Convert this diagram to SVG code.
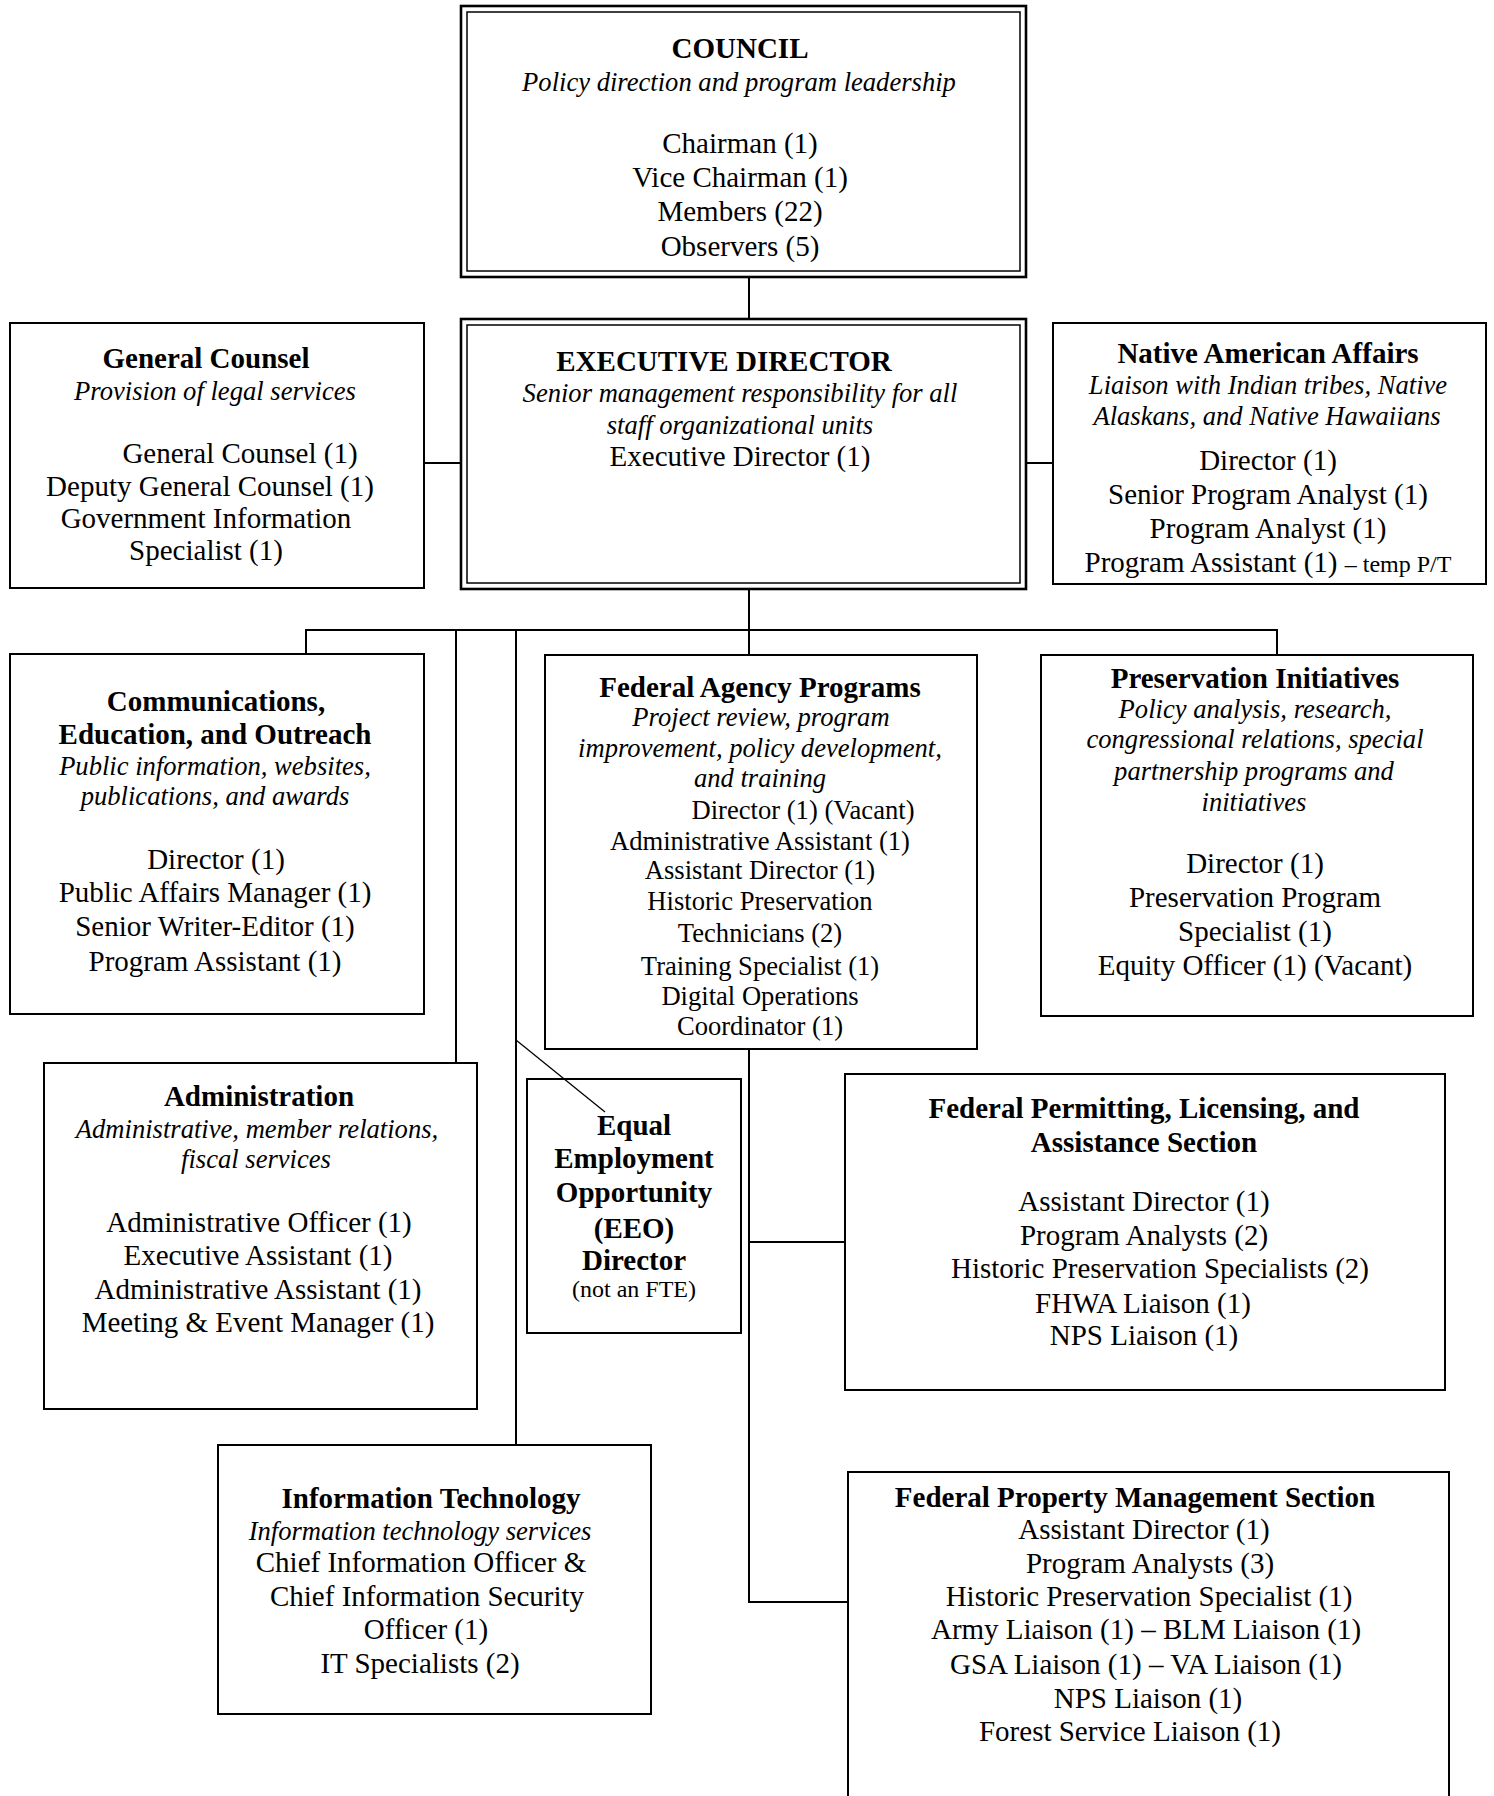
<svg xmlns="http://www.w3.org/2000/svg" width="1494" height="1796" viewBox="0 0 1494 1796">
<style>
.bg{fill:#fff}
.box{fill:#fff;stroke:#000;stroke-width:2}
.dbo{fill:#fff;stroke:#000;stroke-width:2.6}
.dbi{fill:none;stroke:#000;stroke-width:1.5}
.con{fill:none;stroke:#000;stroke-width:2}
.thin{fill:none;stroke:#000;stroke-width:1.3}
text{font-family:"Liberation Serif","Times New Roman",serif;font-size:29px;text-anchor:middle;fill:#000}
.b{font-weight:bold}
.i{font-style:italic;font-size:26.6px}
.m{font-size:26.6px}
.s{font-size:24px}
</style>
<rect class="bg" x="0" y="0" width="1494" height="1796"/>

<g id="council">
<rect class="dbo" x="461" y="6" width="565" height="271"/>
<rect class="dbi" x="467" y="12" width="553" height="259"/>
<text class="b" x="740" y="58">COUNCIL</text>
<text class="i" x="739" y="91">Policy direction and program leadership</text>
<text x="740" y="153">Chairman (1)</text>
<text x="740" y="187">Vice Chairman (1)</text>
<text x="740" y="221">Members (22)</text>
<text x="740" y="256">Observers (5)</text>
</g>

<g id="executive-director">
<rect class="dbo" x="461" y="319" width="565" height="270"/>
<rect class="dbi" x="467" y="325" width="553" height="258"/>
<text class="b" x="724" y="371">EXECUTIVE DIRECTOR</text>
<text class="i" x="740" y="402">Senior management responsibility for all</text>
<text class="i" x="740" y="434">staff organizational units</text>
<text x="740" y="466">Executive Director (1)</text>
</g>

<g id="general-counsel">
<rect class="box" x="10" y="323" width="414" height="265"/>
<text class="b" x="206" y="368">General Counsel</text>
<text class="i" x="215" y="400">Provision of legal services</text>
<text x="240" y="463">General Counsel (1)</text>
<text x="210" y="496">Deputy General Counsel (1)</text>
<text x="206" y="528">Government Information</text>
<text x="206" y="560">Specialist (1)</text>
</g>

<g id="native-american-affairs">
<rect class="box" x="1053" y="323" width="433" height="261"/>
<text class="b" x="1268" y="363">Native American Affairs</text>
<text class="i" x="1268" y="394">Liaison with Indian tribes, Native</text>
<text class="i" x="1267" y="425">Alaskans, and Native Hawaiians</text>
<text x="1268" y="470">Director (1)</text>
<text x="1268" y="504">Senior Program Analyst (1)</text>
<text x="1268" y="538">Program Analyst (1)</text>
<text x="1268" y="572">Program Assistant (1) <tspan class="s">– temp P/T</tspan></text>
</g>

<g id="communications">
<rect class="box" x="10" y="654" width="414" height="360"/>
<text class="b" x="216" y="711">Communications,</text>
<text class="b" x="215" y="744">Education, and Outreach</text>
<text class="i" x="215" y="775">Public information, websites,</text>
<text class="i" x="215" y="805">publications, and awards</text>
<text x="216" y="869">Director (1)</text>
<text x="215" y="902">Public Affairs Manager (1)</text>
<text x="215" y="936">Senior Writer-Editor (1)</text>
<text x="215" y="971">Program Assistant (1)</text>
</g>

<g id="federal-agency-programs">
<rect class="box" x="545" y="655" width="432" height="394"/>
<text class="b" x="760" y="697">Federal Agency Programs</text>
<text class="i" x="761" y="726">Project review, program</text>
<text class="i" x="760" y="757">improvement, policy development,</text>
<text class="i" x="760" y="787">and training</text>
<text class="m" x="803" y="819">Director (1) (Vacant)</text>
<text class="m" x="760" y="850">Administrative Assistant (1)</text>
<text class="m" x="760" y="879">Assistant Director (1)</text>
<text class="m" x="760" y="910">Historic Preservation</text>
<text class="m" x="760" y="942">Technicians (2)</text>
<text class="m" x="760" y="975">Training Specialist (1)</text>
<text class="m" x="760" y="1005">Digital Operations</text>
<text class="m" x="760" y="1035">Coordinator (1)</text>
</g>

<g id="preservation-initiatives">
<rect class="box" x="1041" y="655" width="432" height="361"/>
<text class="b" x="1255" y="688">Preservation Initiatives</text>
<text class="i" x="1255" y="718">Policy analysis, research,</text>
<text class="i" x="1255" y="748">congressional relations, special</text>
<text class="i" x="1254" y="780">partnership programs and</text>
<text class="i" x="1254" y="811">initiatives</text>
<text x="1255" y="873">Director (1)</text>
<text x="1255" y="907">Preservation Program</text>
<text x="1255" y="941">Specialist (1)</text>
<text x="1255" y="975">Equity Officer (1) (Vacant)</text>
</g>

<g id="administration">
<rect class="box" x="44" y="1063" width="433" height="346"/>
<text class="b" x="259" y="1106">Administration</text>
<text class="i" x="257" y="1138">Administrative, member relations,</text>
<text class="i" x="256" y="1168">fiscal services</text>
<text x="259" y="1232">Administrative Officer (1)</text>
<text x="258" y="1265">Executive Assistant (1)</text>
<text x="258" y="1299">Administrative Assistant (1)</text>
<text x="258" y="1332">Meeting &amp; Event Manager (1)</text>
</g>

<g id="eeo">
<rect class="box" x="527" y="1079" width="214" height="254"/>
<text class="b" x="634" y="1135">Equal</text>
<text class="b" x="634" y="1168">Employment</text>
<text class="b" x="634" y="1202">Opportunity</text>
<text class="b" x="634" y="1238">(EEO)</text>
<text class="b" x="634" y="1270">Director</text>
<text class="s" x="634" y="1297">(not an FTE)</text>
</g>

<g id="federal-permitting">
<rect class="box" x="845" y="1074" width="600" height="316"/>
<text class="b" x="1144" y="1118">Federal Permitting, Licensing, and</text>
<text class="b" x="1144" y="1152">Assistance Section</text>
<text x="1144" y="1211">Assistant Director (1)</text>
<text x="1144" y="1245">Program Analysts (2)</text>
<text x="1160" y="1278">Historic Preservation Specialists (2)</text>
<text x="1143" y="1313">FHWA Liaison (1)</text>
<text x="1144" y="1345">NPS Liaison (1)</text>
</g>

<g id="information-technology">
<rect class="box" x="218" y="1445" width="433" height="269"/>
<text class="b" x="431" y="1508">Information Technology</text>
<text class="i" x="420" y="1540">Information technology services</text>
<text x="421" y="1572">Chief Information Officer &amp;</text>
<text x="427" y="1606">Chief Information Security</text>
<text x="426" y="1639">Officer (1)</text>
<text x="420" y="1673">IT Specialists (2)</text>
</g>

<g id="federal-property">
<rect class="box" x="848" y="1472" width="601" height="340"/>
<text class="b" x="1135" y="1507">Federal Property Management Section</text>
<text x="1144" y="1539">Assistant Director (1)</text>
<text x="1150" y="1573">Program Analysts (3)</text>
<text x="1149" y="1606">Historic Preservation Specialist (1)</text>
<text x="1146" y="1639">Army Liaison (1) – BLM Liaison (1)</text>
<text x="1146" y="1674">GSA Liaison (1) – VA Liaison (1)</text>
<text x="1148" y="1708">NPS Liaison (1)</text>
<text x="1130" y="1741">Forest Service Liaison (1)</text>
</g>

<g id="connectors">
<path class="con" d="M749,277 V319"/>
<path class="con" d="M749,589 V630"/>
<path class="con" d="M306,654 V630 H1277 V655"/>
<path class="con" d="M749,630 V655"/>
<path class="con" d="M456,630 V1063"/>
<path class="con" d="M516,630 V1445"/>
<path class="thin" d="M516,1040 L605,1112"/>
<path class="con" d="M424,463 H461"/>
<path class="con" d="M1026,463 H1053"/>
<path class="con" d="M749,1049 V1602 H848"/>
<path class="con" d="M749,1242 H845"/>
</g>
</svg>
